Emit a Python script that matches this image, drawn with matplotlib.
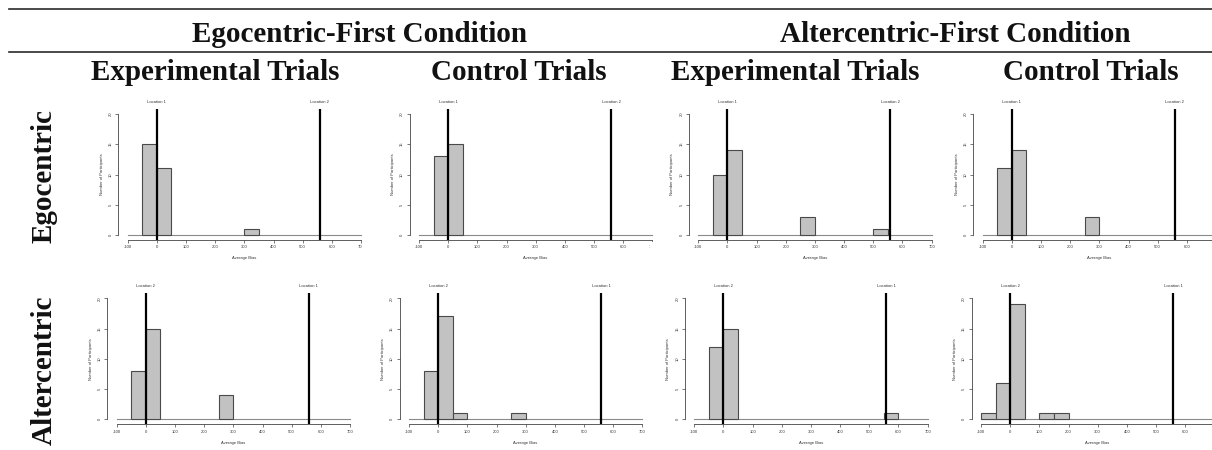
import matplotlib
matplotlib.use("Agg")
import matplotlib.pyplot as plt
from matplotlib.lines import Line2D
from matplotlib.patches import Rectangle

# ---------------- data ----------------
bin_lefts = [-100, -50, 0, 50, 100, 150, 200, 250, 300, 350, 400, 450, 500, 550, 600, 650]
bin_width = 50

# Egocentric-First condition
egofirst_exp_ego = [0, 15, 11, 0, 0, 0, 0, 0, 1, 0, 0, 0, 0, 0, 0, 0]
egofirst_ctl_ego = [0, 13, 15, 0, 0, 0, 0, 0, 0, 0, 0, 0, 0, 0, 0, 0]
egofirst_exp_alt = [0, 8, 15, 0, 0, 0, 0, 4, 0, 0, 0, 0, 0, 0, 0, 0]
egofirst_ctl_alt = [0, 8, 17, 1, 0, 0, 0, 1, 0, 0, 0, 0, 0, 0, 0, 0]
# Altercentric-First condition
altfirst_exp_ego = [0, 10, 14, 0, 0, 0, 0, 3, 0, 0, 0, 0, 1, 0, 0, 0]
altfirst_ctl_ego = [0, 11, 14, 0, 0, 0, 0, 3, 0, 0, 0, 0, 0, 0, 0, 0]
altfirst_exp_alt = [0, 12, 15, 0, 0, 0, 0, 0, 0, 0, 0, 0, 0, 1, 0, 0]
altfirst_ctl_alt = [1, 6, 19, 0, 1, 1, 0, 0, 0, 0, 0, 0, 0, 0, 0, 0]

location_positions = [0, 558]
row_location_labels = [["Location 1", "Location 2"], ["Location 2", "Location 1"]]

x_ticks = [-100, 0, 100, 200, 300, 400, 500, 600, 700]
y_ticks = [0, 5, 10, 15, 20]

condition_titles = ["Egocentric-First Condition", "Altercentric-First Condition"]
trial_titles = ["Experimental Trials", "Control Trials", "Experimental Trials", "Control Trials"]
row_titles = ["Egocentric", "Altercentric"]

# ---------------- layout ----------------
W, H = 1212, 450
fig = plt.figure(figsize=(W / 100, H / 100), dpi=100)
fig.patch.set_facecolor("white")


def fx(px):
    return px / W


def fy(py):
    return 1 - py / H


SX = 0.2917   # px per x unit
SY = 6.05     # px per y unit
XMIN, XMAX = -132, 732
YMIN, YMAX = -0.8, 20.8

panels = [
    (egofirst_exp_ego, 127.7, 235.0, 0),
    (egofirst_ctl_ego, 419.0, 235.0, 0),
    (altfirst_exp_ego, 698.3, 235.0, 0),
    (altfirst_ctl_ego, 982.7, 235.0, 0),
    (egofirst_exp_alt, 116.7, 419.3, 1),
    (egofirst_ctl_alt, 409.0, 419.3, 1),
    (altfirst_exp_alt, 694.3, 419.3, 1),
    (altfirst_ctl_alt, 981.0, 419.3, 1),
]

small = dict(family=["Liberation Sans", "DejaVu Sans"], fontsize=3.0, color="#333333")
axis_col = "#444444"

for counts, x0, y0, row in panels:
    left = x0 - (-100 - XMIN) * SX
    width = (XMAX - XMIN) * SX
    height = (YMAX - YMIN) * SY
    bottom_px = y0 - YMIN * SY
    ax = fig.add_axes([fx(left), fy(bottom_px), width / W, height / H])
    ax.set_xlim(XMIN, XMAX)
    ax.set_ylim(YMIN, YMAX)
    ax.patch.set_alpha(0)

    xs = [b for b, c in zip(bin_lefts, counts) if c > 0]
    hs = [c for c in counts if c > 0]
    ax.plot([-100, 700], [0, 0], color="#8a8a8a", lw=0.8, zorder=1)
    ax.bar(xs, hs, width=bin_width, align="edge", color="#c2c2c2",
           edgecolor="#4a4a4a", linewidth=0.8, zorder=2)
    for xv in location_positions:
        ax.axvline(xv, color="black", lw=1.6, zorder=3)

    for s in ["top", "right"]:
        ax.spines[s].set_visible(False)
    ax.spines["left"].set_bounds(0, 20)
    ax.spines["bottom"].set_bounds(-100, 700)
    for s in ["left", "bottom"]:
        ax.spines[s].set_color(axis_col)
        ax.spines[s].set_linewidth(0.6)

    ax.set_xticks(x_ticks)
    ax.set_yticks(y_ticks)
    # tick labels that would fall past the right edge of the figure are omitted
    xlabels = [str(v) if x0 + (v + 100) * SX + 6 < W else "" for v in x_ticks]
    ax.set_xticklabels(xlabels, **small)
    ax.set_yticklabels([str(v) for v in y_ticks], rotation=90, va="center", **small)
    ax.tick_params(axis="both", length=2, width=0.5, color=axis_col, pad=2)

    # axis titles
    fig.text(fx(left + width / 2), fy(y0 + 23.3), "Average Bias",
             ha="center", va="center", **small)
    fig.text(fx(left - 16.7), fy(bottom_px - height / 2), "Number of Participants",
             ha="center", va="center", rotation=90, **small)
    for xv, lab in zip(location_positions, row_location_labels[row]):
        fig.text(fx(x0 + (xv + 100) * SX), fy(y0 - 133.3), lab,
                 ha="center", va="center", **small)

# cropped tick labels (panel images overlap in the original)
for (xa, xb) in [(362, 398), (650, 680)]:
    fig.add_artist(Rectangle((fx(xa), fy(253)), (xb - xa) / W, 11 / H,
                             transform=fig.transFigure, facecolor="white",
                             edgecolor="none", zorder=10))

# header rules
for yy in [9, 52]:
    fig.add_artist(Line2D([fx(9), 1.0], [fy(yy), fy(yy)], color="#2a2a2a",
                          lw=1.2, transform=fig.transFigure))

big = dict(family=["Liberation Serif", "DejaVu Serif"], fontweight="bold",
           fontsize=21, color="#111111")

for title, cx in zip(condition_titles, [360, 955]):
    fig.text(fx(cx), fy(42), title, ha="center", va="baseline", **big)
for title, cx in zip(trial_titles, [215.5, 519, 795, 1091]):
    fig.text(fx(cx), fy(80), title, ha="center", va="baseline", **big)
for title, cy in zip(row_titles, [176, 370]):
    fig.text(fx(44), fy(cy), title, ha="center", va="center", rotation=90, **big)

fig.savefig("out.png", dpi=100, facecolor="white")
